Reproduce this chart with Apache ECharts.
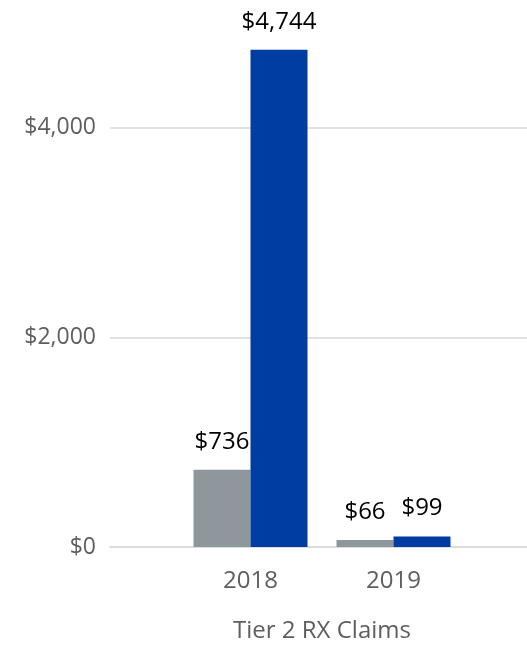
<!DOCTYPE html>
<html>
<head>
<meta charset="utf-8">
<script src="https://cdn.jsdelivr.net/npm/echarts@6/dist/echarts.min.js"></script>
<style>
    html, body { margin: 0; padding: 0; background: #fff; }
    #chart { width: 527px; height: 650px; }
</style>
</head>
<body>
<div id="chart"></div>
<script>
// data
var categories = ['2018', '2019']
var seriesGray = [736, 66]
var seriesBlue = [4744, 99]
var axisTitle = 'Tier 2 RX Claims'

var font = '"Open Sans", "Noto Sans", sans-serif'
var yMax = 5000

function money(v) {
    return '$' + Number(v).toLocaleString('en-US')
}

var myChart = echarts.init(document.getElementById('chart'))
var option = {
    animation: false,
    textStyle: { fontFamily: font },
    grid: [
        // gridlines + y labels across the full width
        { left: 110, right: 0, top: 23, bottom: 103 },
        // the bars sit in a narrower band
        { left: 179, right: 62, top: 23, bottom: 103 }
    ],
    xAxis: [
        {
            gridIndex: 0,
            type: 'category',
            data: categories,
            axisLine: { show: true, lineStyle: { color: '#dcdcdc', width: 2 } },
            axisTick: { show: false },
            axisLabel: { show: false }
        },
        {
            gridIndex: 1,
            type: 'category',
            data: categories,
            axisLine: { show: false },
            axisTick: { show: false },
            axisLabel: { color: '#605e5c', fontSize: 24, margin: 22, fontFamily: font },
            name: axisTitle,
            nameLocation: 'middle',
            nameGap: 72,
            nameTextStyle: { color: '#605e5c', fontSize: 24, fontFamily: font }
        }
    ],
    yAxis: [
        {
            gridIndex: 0,
            type: 'value',
            min: 0,
            max: yMax,
            interval: 2000,
            axisLine: { show: false },
            axisTick: { show: false },
            axisLabel: {
                color: '#605e5c',
                fontSize: 23,
                margin: 14,
                fontFamily: font,
                showMaxLabel: false,
                formatter: function(v) { return v > 4000 ? '' : money(v) }
            },
            splitLine: { show: true, showMaxLine: false, lineStyle: { color: '#e1e1e1', width: 2 } }
        },
        {
            gridIndex: 1,
            type: 'value',
            min: 0,
            max: yMax,
            interval: 2000,
            show: false,
            splitLine: { show: false }
        }
    ],
    series: [
        {
            type: 'bar',
            xAxisIndex: 1,
            yAxisIndex: 1,
            data: seriesGray,
            barWidth: 57,
            barGap: '0%',
            itemStyle: { color: '#8e979b' },
            label: {
                show: true,
                position: 'top',
                distance: 16,
                color: '#000',
                fontSize: 24,
                fontFamily: font,
                formatter: function(p) { return money(p.value) }
            }
        },
        {
            type: 'bar',
            xAxisIndex: 1,
            yAxisIndex: 1,
            data: seriesBlue,
            barWidth: 57,
            barGap: '0%',
            itemStyle: { color: '#003da3' },
            label: {
                show: true,
                position: 'top',
                distance: 16,
                color: '#000',
                fontSize: 24,
                fontFamily: font,
                formatter: function(p) { return money(p.value) }
            }
        }
    ]
}
myChart.setOption(option)
window.addEventListener('resize', function() {
    myChart.resize()
})
</script>
</body>
</html>
